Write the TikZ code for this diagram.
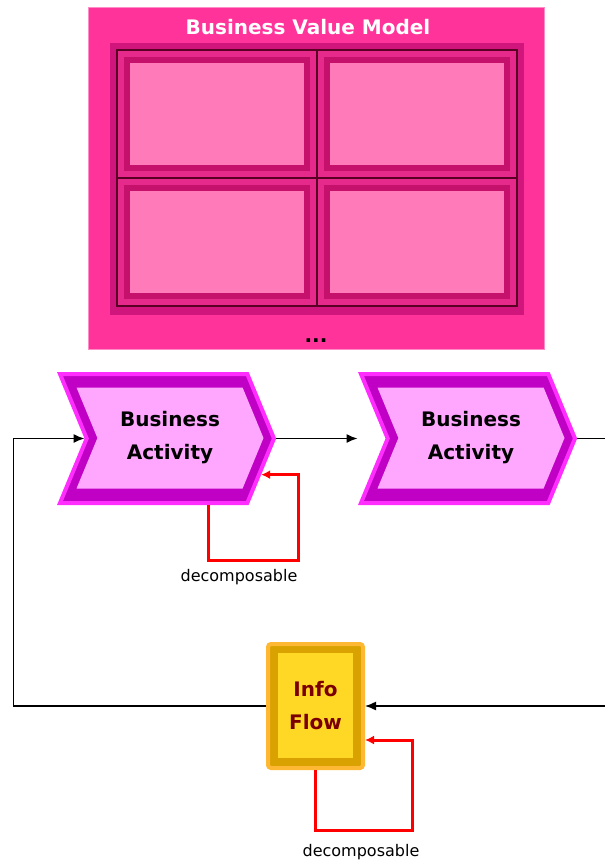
\documentclass[tikz,border=0pt]{standalone}
\usepackage{fontspec}
\setmainfont{DejaVu Sans}
\usetikzlibrary{shapes.symbols,arrows.meta}

\definecolor{bvmpink}{HTML}{FF3399}
\definecolor{bvmedge}{HTML}{FF8CC6}
\definecolor{bvmframe}{HTML}{D0167C}
\definecolor{bvmcell}{HTML}{E62A8C}
\definecolor{bvmbevel}{HTML}{C5106C}
\definecolor{bvmlight}{HTML}{FF7AB8}
\definecolor{bvmline}{HTML}{5A0024}
\definecolor{actedge}{HTML}{FF2EFF}
\definecolor{actbevel}{HTML}{C000C4}
\definecolor{actfill}{HTML}{FFA6FF}
\definecolor{infoedge}{HTML}{FFB833}
\definecolor{infobevel}{HTML}{D9A200}
\definecolor{infofill}{HTML}{FFD826}
\definecolor{infotext}{HTML}{7A0000}
\definecolor{decred}{HTML}{FF0000}

\tikzset{
  activity/.style={signal, signal to=east, signal from=west,
    signal pointer angle=135, inner sep=0pt,
    minimum width=214pt, minimum height=129pt,
    fill=actbevel, draw=actedge, line width=4pt},
  activityin/.style={signal, signal to=east, signal from=west,
    signal pointer angle=135, inner sep=0pt,
    minimum width=187pt, minimum height=101pt, fill=actfill,
    align=center, font=\fontsize{20}{33}\selectfont\bfseries},
  info/.style={rectangle, rounded corners=3pt, inner sep=0pt,
    minimum width=95pt, minimum height=124pt,
    fill=infobevel, draw=infoedge, line width=4pt},
  infoin/.style={rectangle, inner sep=0pt,
    minimum width=75pt, minimum height=105pt, fill=infofill,
    text=infotext, align=center, font=\fontsize{20}{33}\selectfont\bfseries},
  flow/.style={draw=black, line width=1.4pt, -{Latex[length=11pt,width=9pt]}},
  decomp/.style={draw=decred, line width=3pt, -{Latex[length=9pt,width=9pt]}},
  declabel/.style={font=\fontsize{16}{18}\selectfont},
}

\begin{document}
\begin{tikzpicture}[x=1pt,y=-1pt]
  \useasboundingbox (0,0) rectangle (605,863);

  % business value model
  \node[rectangle, fill=bvmpink, draw=bvmedge, line width=1pt,
    minimum width=456pt, minimum height=342pt] (bvm) at (316,178) {};
  \node[text=white, font=\fontsize{20}{22}\selectfont\bfseries] (bvmtitle) at (308,27) {Business Value Model};
  \fill[bvmframe] (110,43) rectangle (524,315);
  \foreach \cx/\cy in {117/50, 317/50, 117/178, 317/178} {
    \fill[bvmcell] (\cx,\cy) rectangle ++(200,128);
    \fill[bvmbevel] (\cx+7,\cy+7) rectangle (\cx+193,\cy+121);
    \fill[bvmlight] (\cx+13,\cy+13) rectangle (\cx+187,\cy+115);
  }
  \draw[bvmline, line width=1.6pt] (117,50) rectangle (517,306)
    (317,50) -- (317,306) (117,178) -- (517,178);
  \node[font=\fontsize{20}{22}\selectfont\bfseries] (bvmdots) at (316,341) {...};

  % activities
  \node[activity] (ba1) at (167,438.5) {};
  \node[activityin] (ba1i) at (170,438) {Business\\Activity};
  \node[activity] (ba2) at (468,438.5) {};
  \node[activityin] (ba2i) at (471,438) {Business\\Activity};

  % info flow
  \node[info] (if) at (315.5,706) {};
  \node[infoin] (ifi) at (315.5,705.5) {Info\\Flow};

  \coordinate (lc) at (13.5,438.5);
  \coordinate (re1) at (605,438.5);
  \coordinate (re2) at (605,706);
  \coordinate (dl1) at (298,560);
  \coordinate (dl2) at (412,830);

  % connectors
  \draw[flow] (if.west) -| (lc) -- (ba1.west);
  \draw[flow, shorten >=28pt] (ba1.east) -- (ba2.west);
  \draw[line width=1.4pt] (ba2.east) -- (re1);
  \draw[flow] (re2) -- (if.east);

  % decomposable loops
  \draw[decomp] ([xshift=41pt]ba1.south) |- (dl1) |- (ba1.-21);
  \node[declabel] (dec1) at (239,577) {decomposable};
  \draw[decomp] (if.south) |- (dl2) |- ([yshift=-34pt]if.east);
  \node[declabel] (dec2) at (361,852) {decomposable};
\end{tikzpicture}
\end{document}
